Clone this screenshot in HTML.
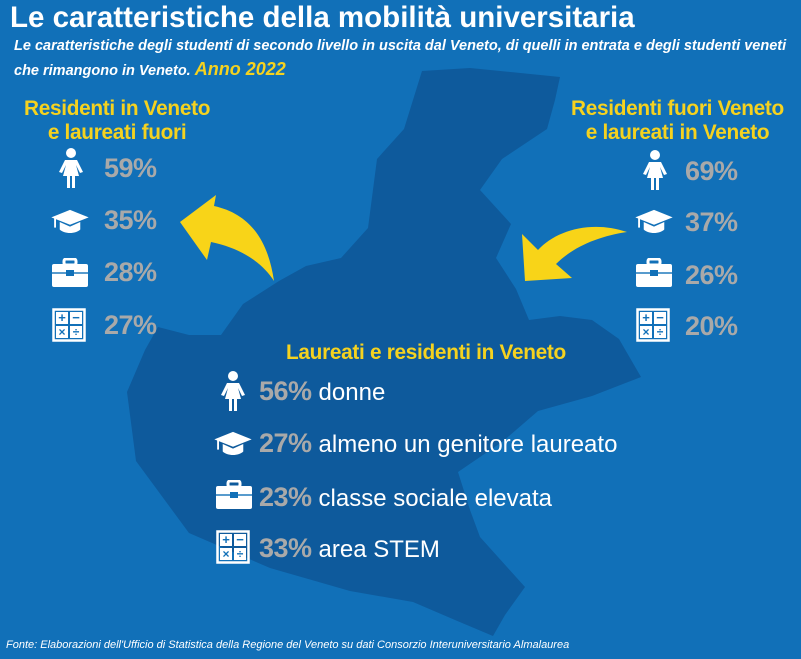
<!DOCTYPE html>
<html><head><meta charset="utf-8"><style>
body{margin:0}
#c{position:relative;width:801px;height:659px;background:#1170b8;overflow:hidden;font-family:"Liberation Sans",sans-serif}
.t{position:absolute;white-space:nowrap}
.p{font-weight:bold;color:#a9a9a9;font-size:27px;letter-spacing:-0.5px}
.y{color:#f5d21f;font-weight:bold;font-size:20.8px;line-height:24px;letter-spacing:-0.3px}
.l{color:#fff;font-size:24px;font-weight:normal;letter-spacing:0}
svg{position:absolute;left:0;top:0}
</style></head><body><div id="c">
<svg width="801" height="659">
<defs>
<symbol id="w" viewBox="0 0 30 40"><circle cx="15" cy="5" r="5" fill="#fff"/><path d="M9 12h12l6 12-3 1-4-8 3 11h-4v12h-3V28h-2v12h-3V28H7l3-11-4 8-3-1z" fill="#fff"/></symbol>
<symbol id="g" viewBox="0 0 40 30"><path d="M20 2L40 10 20 18 0 10z" fill="#fff"/><path d="M9 15v8c5 5 17 5 22 0v-8l-11 5z" fill="#fff"/><rect x="3" y="11" width="2" height="10" fill="#fff"/></symbol>
<symbol id="b" viewBox="0 0 36 30"><rect x="12" y="1" width="12" height="6" rx="2" fill="none" stroke="#fff" stroke-width="3"/><rect x="0" y="6" width="36" height="23" rx="2" fill="#fff"/><rect x="0" y="14" width="36" height="2" fill="#1170b8" opacity=".7"/><rect x="14" y="12" width="8" height="6" fill="#1170b8"/></symbol>
<symbol id="k" viewBox="0 0 34 34"><rect x="1.5" y="1.5" width="31" height="31" fill="none" stroke="#fff" stroke-width="2.5"/><rect x="4" y="4" width="12" height="12" fill="#fff"/><rect x="18" y="4" width="12" height="12" fill="#fff"/><rect x="4" y="18" width="12" height="12" fill="#fff"/><rect x="18" y="18" width="12" height="12" fill="#fff"/><text x="10" y="14" font-size="13" font-weight="bold" text-anchor="middle" fill="#1170b8" font-family="Liberation Sans">+</text><text x="24" y="14" font-size="13" font-weight="bold" text-anchor="middle" fill="#1170b8" font-family="Liberation Sans">−</text><text x="10" y="28" font-size="12" font-weight="bold" text-anchor="middle" fill="#1170b8" font-family="Liberation Sans">×</text><text x="24" y="28" font-size="12" font-weight="bold" text-anchor="middle" fill="#1170b8" font-family="Liberation Sans">÷</text></symbol>
</defs>
<path d="M422 71 L470 68 L560 77 L555 100 L547 129 L502 159 L480 190 L511 224 L496 258 L516 289 L529 320 L560 316 L592 320 L619 339 L641 377 L592 396 L538 411 L502 442 L458 472 L470 510 L480 537 L525 587 L505 615 L493 636 L455 620 L413 602 L350 591 L270 568 L189 533 L136 461 L127 392 L145 350 L158 327 L189 335 L221 335 L243 304 L279 281 L306 266 L341 258 L368 228 L377 159 L404 129 Z" fill="#0e5a9c"/>
<path d="M274 281 C268 240 250 214 214 206 L216 195 L180 222 L207 260 L211 242 C240 248 262 262 274 281 Z" fill="#f8d418"/>
<path d="M627 232 C592 220 556 230 538 250 L522 234 L525 281 L572 278 L556 264 C574 246 600 236 627 232 Z" fill="#f8d418"/>
<use href="#w" x="56" y="148" width="30" height="40"/>
<use href="#g" x="50" y="208" width="40" height="28"/>
<use href="#b" x="52" y="258" width="36" height="30"/>
<use href="#k" x="52" y="308" width="34" height="34"/>
<use href="#w" x="640" y="150" width="30" height="40"/>
<use href="#g" x="634" y="208" width="40" height="28"/>
<use href="#b" x="636" y="258" width="36" height="30"/>
<use href="#k" x="636" y="308" width="34" height="34"/>
<use href="#w" x="218" y="371" width="30" height="40"/>
<use href="#g" x="213" y="430" width="40" height="28"/>
<use href="#b" x="216" y="480" width="36" height="30"/>
<use href="#k" x="216" y="530" width="34" height="34"/>
</svg>
<div class="t" style="left:10px;top:1px;color:#fff;font-weight:bold;font-size:29.5px">Le caratteristiche della mobilità universitaria</div>
<div class="t" style="left:14px;top:35px;color:#fff;font-weight:bold;font-style:italic;font-size:14.5px;line-height:23px">Le caratteristiche degli studenti di secondo livello in uscita dal Veneto, di quelli in entrata e degli studenti veneti<br>che rimangono in Veneto. <span style="color:#f5d21f;font-size:18px">Anno 2022</span></div>
<div class="t y" style="left:24px;top:97px;text-align:center">Residenti in Veneto<br>e laureati fuori</div>
<div class="t y" style="left:571px;top:97px;text-align:center">Residenti fuori Veneto<br>e laureati in Veneto</div>
<div class="t y" style="left:286px;top:341px">Laureati e residenti in Veneto</div>
<div class="t p" style="left:104px;top:153px">59%</div>
<div class="t p" style="left:104px;top:205px">35%</div>
<div class="t p" style="left:104px;top:257px">28%</div>
<div class="t p" style="left:104px;top:310px">27%</div>
<div class="t p" style="left:685px;top:156px">69%</div>
<div class="t p" style="left:685px;top:207px">37%</div>
<div class="t p" style="left:685px;top:260px">26%</div>
<div class="t p" style="left:685px;top:311px">20%</div>
<div class="t p" style="left:259px;top:376px">56% <span class="l">donne</span></div>
<div class="t p" style="left:259px;top:428px">27% <span class="l">almeno un genitore laureato</span></div>
<div class="t p" style="left:259px;top:482px">23% <span class="l">classe sociale elevata</span></div>
<div class="t p" style="left:259px;top:533px">33% <span class="l">area STEM</span></div>
<div class="t" style="left:6px;top:639px;color:#fff;font-style:italic;font-size:11px">Fonte: Elaborazioni dell'Ufficio di Statistica della Regione del Veneto su dati Consorzio Interuniversitario Almalaurea</div>
</div></body></html>
